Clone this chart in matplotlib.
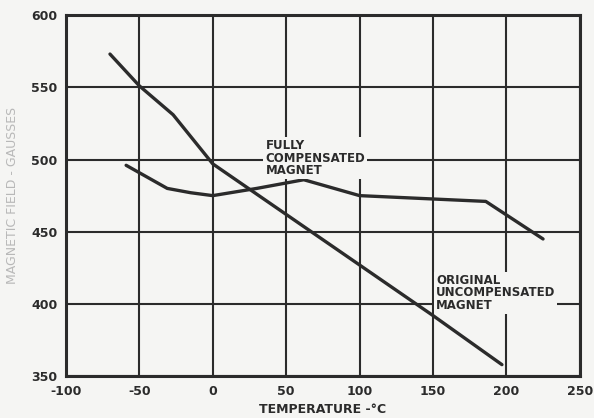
import matplotlib
matplotlib.use("Agg")
import matplotlib.pyplot as plt

plt.rcParams["axes.unicode_minus"] = False

# Data
uncomp_temp = [-70, -50, -27, 0, 50, 100, 150, 197]
uncomp_field = [573, 551, 531, 497, 462, 427, 392, 358]

comp_temp = [-59, -45, -31, -15, 0, 30, 62, 100, 186, 225]
comp_field = [496, 488, 480, 477, 475, 480, 486, 475, 471, 445]

x_ticks = [-100, -50, 0, 50, 100, 150, 200, 250]
y_ticks = [350, 400, 450, 500, 550, 600]

ink = "#2b2b2b"
bg = "#f5f5f3"

fig = plt.figure(figsize=(5.94, 4.18), dpi=100, facecolor=bg)
ax = fig.add_axes([0.111, 0.100, 0.865, 0.864], facecolor=bg)

ax.plot(uncomp_temp, uncomp_field, color=ink, lw=2.4, solid_capstyle="round", zorder=3)
ax.plot(comp_temp, comp_field, color=ink, lw=2.4, solid_capstyle="round", zorder=3)

ax.set_xlim(-100, 250)
ax.set_ylim(350, 600)
ax.set_xticks(x_ticks)
ax.set_yticks(y_ticks)
ax.grid(True, color=ink, lw=1.5, zorder=1)
for s in ax.spines.values():
    s.set_color(ink)
    s.set_linewidth(2.2)
ax.tick_params(length=0, pad=6, labelsize=9, colors=ink)
for lab in ax.get_xticklabels() + ax.get_yticklabels():
    lab.set_fontweight("bold")

ax.set_xlabel("TEMPERATURE -°C", fontsize=9, fontweight="bold", color=ink, labelpad=4)
ax.set_ylabel("MAGNETIC FIELD - GAUSSES", fontsize=9, color="#b8b8b8", labelpad=9)

box = dict(facecolor=bg, edgecolor="none", pad=1.5)
ax.text(36, 514, "FULLY\nCOMPENSATED\nMAGNET", fontsize=8.5, fontweight="bold", color=ink,
        va="top", ha="left", linespacing=0.95, bbox=box, zorder=4)
ax.text(152, 421, "ORIGINAL\nUNCOMPENSATED\nMAGNET", fontsize=8.5, fontweight="bold", color=ink,
        va="top", ha="left", linespacing=0.95, bbox=box, zorder=4)

fig.savefig("out.png", dpi=100, facecolor=bg)
